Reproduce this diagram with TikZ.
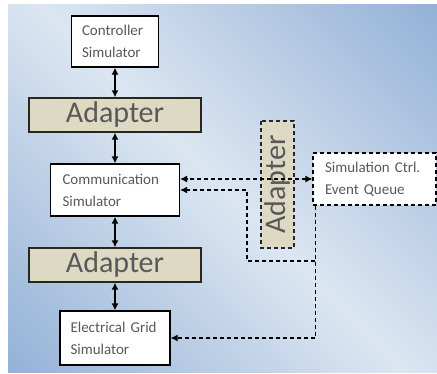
\documentclass[tikz,border=0pt]{standalone}
\usepackage{fontspec}
\setmainfont{Carlito}
\usetikzlibrary{arrows.meta}
\definecolor{bgdark}{HTML}{93B1D6}
\definecolor{bglight}{HTML}{DCE6F2}
\definecolor{adfill}{HTML}{DDD9C3}
\definecolor{txtgray}{HTML}{595959}
% diagonal backdrop: dark at two opposite corners, light along the other diagonal
\pgfdeclareverticalshading{backdrop}{600bp}{color(0bp)=(bgdark); color(282bp)=(bglight);
  color(564bp)=(bgdark)}
\tikzset{
  simbox/.style={draw=black, line width=1.2pt, fill=white, inner sep=0pt,
    align=left, text=txtgray, font=\fontsize{15}{22}\selectfont},
  adbox/.style={draw=black!85, line width=1.3pt, fill=adfill, inner sep=0pt,
    text=txtgray, font=\fontsize{30}{30}\selectfont,
    minimum width=172pt, minimum height=34pt},
  dashline/.style={line width=1.2pt, dash pattern=on 4pt off 3pt},
  link/.style={line width=1.8pt, {Latex[length=7pt,width=7pt]}-{Latex[length=7pt,width=7pt]}},
  onetip/.style={-{Latex[length=7pt,width=7pt]}},
}
\begin{document}
\begin{tikzpicture}[x=1pt,y=-1pt]
  \useasboundingbox (0,0) rectangle (437,374);
  % background panel
  \begin{scope}
    \clip (8,5) rectangle (437,373);
    \node[inner sep=0pt, rotate=-45] (panel) at (222.5,189) {\pgfuseshading{backdrop}};
  \end{scope}

  % simulators and adapters
  \node[simbox, minimum width=87pt, minimum height=51pt, text width=66pt]
    (ctrl) at (115,41.5) {Controller\\Simulator};
  \node[adbox] (ad1) at (115,115) {Adapter};
  \node[simbox, minimum width=129pt, minimum height=52pt, text width=105pt]
    (comm) at (115,190) {Communication\\Simulator};
  \node[adbox] (ad2) at (115,265) {Adapter};
  \node[simbox, minimum width=110pt, minimum height=54pt, text width=89pt]
    (grid) at (115,338) {Electrical Grid\\Simulator};
  \node[adbox, dashline, minimum width=127pt, minimum height=33pt, rotate=90]
    (adv) at (277.5,184.5) {Adapter};
  \node[simbox, dashline, minimum width=123pt, minimum height=52pt, text width=99pt]
    (queue) at (374.5,179) {Simulation Ctrl.\\Event Queue};

  % solid couplings
  \draw[link] (ctrl.south) -- (ctrl.south |- ad1.north);
  \draw[link] (ad1.south) -- (ad1.south |- comm.north);
  \draw[link] (comm.south) -- (comm.south |- ad2.north);
  \draw[link] (ad2.south) -- (ad2.south |- grid.north);

  % control event paths
  \draw[dashline, link, line width=1.2pt] (queue.west) -- (comm.east |- queue.west);
  \coordinate (qdrop) at ([xshift=3pt]queue.south west);
  \coordinate (junc) at (qdrop |- 0,261);
  \coordinate (bend) at (247,261);
  \draw[dashline] (qdrop) -- (qdrop |- grid.east);
  \draw[dashline, onetip] (qdrop |- grid.east) -- (grid.east);
  \draw[dashline, onetip] (junc) -- (bend) |- (comm.east);
\end{tikzpicture}
\end{document}
